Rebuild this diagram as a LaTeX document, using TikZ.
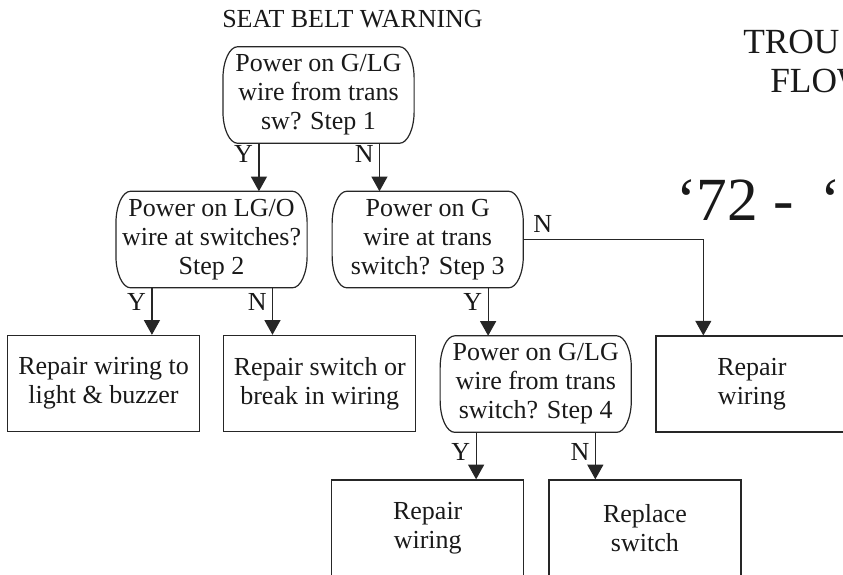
\documentclass[tikz,border=0pt]{standalone}
\usepackage{fontspec}
\setmainfont{Liberation Serif}
\usetikzlibrary{arrows.meta,positioning}

\begin{document}
\begin{tikzpicture}[
  font=\fontsize{19.5}{21.75}\selectfont,
  text=black!90,
  query/.style={align=center, minimum width=143pt, minimum height=72pt, inner sep=0pt},
  fixbox/.style={draw=black!85, line width=0.9pt, align=center, minimum width=144pt, minimum height=72pt, inner sep=0pt},
  pill/.style={draw=black!85, line width=0.9pt},
  arrow/.style={-{Triangle[length=11pt, width=12pt]}, line width=0.9pt, draw=black!85},
  yn/.style={inner xsep=4pt, inner ysep=1pt},
  heading/.style={anchor=base west, inner sep=0pt}
]
\useasboundingbox (0,0) rectangle (632.25pt,-431.25pt);

% headings
\node[heading] (title) at (166.5pt,-20.25pt) {SEAT BELT WARNING};
\node[heading, font=\fontsize{26.5}{29}\selectfont] (trou) at (557.25pt,-39.75pt) {TROU};
\node[heading, font=\fontsize{26.5}{29}\selectfont] (flow) at (577.5pt,-69pt) {FLOW};
\node[heading, font=\fontsize{46}{50}\selectfont] (years) at (507pt,-165pt) {`72 -\hspace{20pt}`7};

% questions
\node[query] (step1) at (238.9pt,-71.25pt) {Power on G/LG\\wire from trans\\sw? Step 1};
\node[query, below=36pt of step1, xshift=-80.25pt] (step2) {Power on LG/O\\wire at switches?\\Step 2};
\node[query, right=18.75pt of step2] (step3) {Power on G\\wire at trans\\switch? Step 3};
\node[query, below=36pt of step3, xshift=81pt] (step4) {Power on G/LG\\wire from trans\\switch? Step 4};

\foreach \q in {step1,step2,step3,step4}
  \draw[pill] ([xshift=11pt]\q.north west) -- ([xshift=-11pt]\q.north east)
    arc[start angle=90, end angle=0, x radius=11pt, y radius=24pt]
    -- ([yshift=24pt]\q.south east)
    arc[start angle=0, end angle=-90, x radius=11pt, y radius=24pt]
    -- ([xshift=11pt]\q.south west)
    arc[start angle=270, end angle=180, x radius=11pt, y radius=24pt]
    -- ([yshift=-24pt]\q.north west)
    arc[start angle=180, end angle=90, x radius=11pt, y radius=24pt] -- cycle;

% repairs
\node[fixbox, below=35.25pt of step2, xshift=-81pt] (fix1) {Repair wiring to\\light \& buzzer};
\node[fixbox, right=17.25pt of fix1] (fix2) {Repair switch or\\break in wiring};
\node[fixbox, right=18pt of step4] (fix3) {Repair\\wiring};
\node[fixbox, below=35.25pt of step4, xshift=-81pt] (fix4) {Repair\\wiring};
\node[fixbox, right=18pt of fix4] (fix5) {Replace\\switch};

\coordinate (s4in) at ([xshift=36pt]step4.north west);

\draw[arrow] ([xshift=27pt]step1.south west) -- node[yn, pos=0, anchor=north east] {Y} ([xshift=27pt]step1.south west |- step2.north);
\draw[arrow] ([xshift=-26pt]step1.south east) -- node[yn, pos=0, anchor=north east] {N} ([xshift=-26pt]step1.south east |- step3.north);

\draw[arrow] ([xshift=27pt]step2.south west) -- node[yn, pos=0, anchor=north east, yshift=-3pt] {Y} ([xshift=27pt]step2.south west |- fix1.north);
\draw[arrow] ([xshift=-26pt]step2.south east) -- node[yn, pos=0, anchor=north east, yshift=-3pt] {N} ([xshift=-26pt]step2.south east |- fix2.north);

\draw[arrow] (step3.south -| s4in) -- node[yn, pos=0, anchor=north east, yshift=-3pt] {Y} (s4in);
\draw[arrow] (step3.east) -| node[yn, pos=0, anchor=south west, xshift=3pt, yshift=4pt] {N} ([xshift=36pt]fix3.north west);

\draw[arrow] ([xshift=27pt]step4.south west) -- node[yn, pos=0, anchor=north east, yshift=-7pt] {Y} ([xshift=27pt]step4.south west |- fix4.north);
\draw[arrow] ([xshift=-27pt]step4.south east) -- node[yn, pos=0, anchor=north east, yshift=-7pt] {N} ([xshift=-27pt]step4.south east |- fix5.north);

\end{tikzpicture}
\end{document}
